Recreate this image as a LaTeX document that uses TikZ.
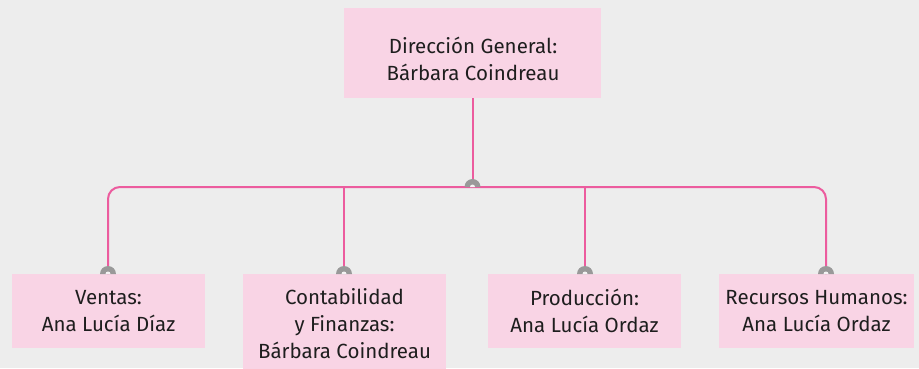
\documentclass[tikz,border=0pt]{standalone}
\usepackage{fontspec}
\setmainfont{Fira Sans}
\definecolor{bgc}{HTML}{EDEDED}
\definecolor{boxc}{HTML}{F9D4E5}
\definecolor{linec}{HTML}{EC5C9E}
\definecolor{capc}{HTML}{999999}
\definecolor{holec}{HTML}{F4F4F4}
\definecolor{txtc}{HTML}{1E1E1E}
\newcommand{\capat}[1]{%
  \fill[capc] ([xshift=8pt]#1) arc[start angle=0,end angle=-180,radius=8] -- cycle;
  \fill[holec] ([xshift=2.5pt]#1) arc[start angle=0,end angle=-180,radius=2.5] -- cycle;}
\begin{document}
\begin{tikzpicture}[x=1pt,y=-1pt,
  box/.style={fill=boxc, draw=none, inner sep=0pt},
  txt/.style={align=center, text=txtc, font=\fontsize{20.5pt}{27pt}\selectfont},
  conn/.style={draw=linec, line width=2pt}]
\fill[bgc] (0,0) rectangle (919,368);
\useasboundingbox (0,0) rectangle (919,368);
% boxes
\node[box, minimum width=257pt, minimum height=90pt] (top) at (472.5,53) {};
\node[txt] (toptxt) at (473,59) {Dirección General:\\Bárbara Coindreau};
\node[box, minimum width=193pt, minimum height=74pt] (b1) at (108.5,311) {};
\node[txt] (t1) at (b1.center) {Ventas:\\Ana Lucía Díaz};
\node[box, minimum width=203pt, minimum height=96pt] (b2) at (344.5,322) {};
\node[txt] (t2) at (344.5,324) {Contabilidad\\y Finanzas:\\Bárbara Coindreau};
\node[box, minimum width=193pt, minimum height=74pt] (b3) at (584.5,311) {};
\node[txt] (t3) at (b3.center) {Producción:\\Ana Lucía Ordaz};
\node[box, minimum width=195pt, minimum height=74pt] (b4) at (816.5,311) {};
\node[txt] (t4) at (b4.center) {Recursos Humanos:\\Ana Lucía Ordaz};
% connectors
\coordinate (j) at (472.5,187);
\coordinate (c1) at (108,274);
\coordinate (c2) at (344,274);
\coordinate (c3) at (585,274);
\coordinate (c4) at (826,274);
\draw[conn] (top.south) -- (j);
\draw[conn, rounded corners=12pt] (c1) -- (c1 |- j) -- (c4 |- j) -- (c4);
\draw[conn] (c2 |- j) -- (c2);
\draw[conn] (c3 |- j) -- (c3);
\capat{j}
\capat{c1}
\capat{c2}
\capat{c3}
\capat{c4}
\end{tikzpicture}
\end{document}
